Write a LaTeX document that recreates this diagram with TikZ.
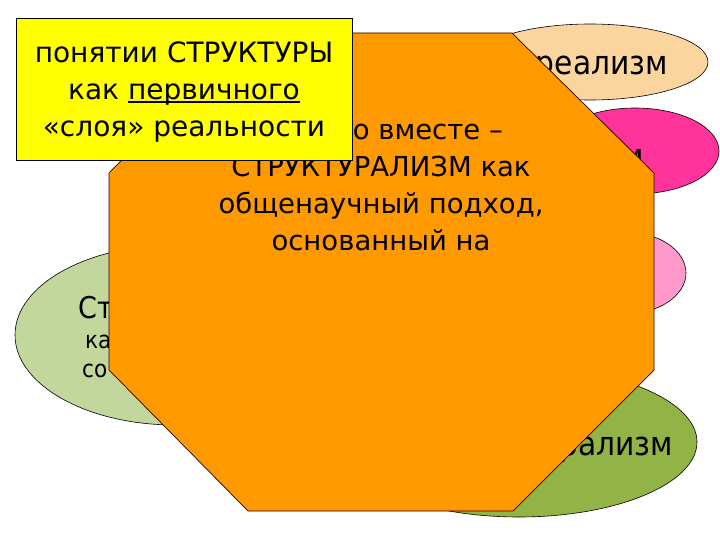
\documentclass[tikz,border=0pt]{standalone}
\usepackage{fontspec}
\setmainfont{DejaVu Sans}
\newfontfamily\narrowfont{DejaVu Sans}[FakeStretch=0.9]
\definecolor{peach}{HTML}{FBD59E}
\definecolor{hotpink}{HTML}{FF3399}
\definecolor{lightpink}{HTML}{FF99CC}
\definecolor{sage}{HTML}{C3D69B}
\definecolor{olivegreen}{HTML}{92B447}
\definecolor{orangefill}{HTML}{FF9900}
\definecolor{boxyellow}{HTML}{FFFF00}
\newcommand\ulword[1]{\setbox0\hbox{#1}\rlap{\rule[-3.2pt]{\wd0}{2pt}}\box0}
\begin{document}
\begin{tikzpicture}[x=1pt,y=-1pt,
  ell/.style={draw=black, line width=0.6pt},
  elltext/.style={font=\narrowfont\fontsize{33}{36}\selectfont, inner sep=0pt},
  bigtext/.style={font=\fontsize{28}{36}\selectfont, inner sep=0pt},
  smalltext/.style={font=\narrowfont\fontsize{24}{28}\selectfont, inner sep=0pt},
  octtext/.style={font=\fontsize{27.5}{36}\selectfont, inner sep=0pt, anchor=base}]
\useasboundingbox (0,0) rectangle (720,540);
\fill[white] (0,0) rectangle (720,540);
% ellipses
\draw[ell, fill=peach] (590,62) ellipse [x radius=118, y radius=38];
\draw[ell, fill=hotpink] (635,151) ellipse [x radius=84, y radius=43];
\draw[ell, fill=lightpink] (625,273) ellipse [x radius=61, y radius=41];
\draw[ell, fill=sage] (175,335) ellipse [x radius=160, y radius=90];
\draw[ell, fill=olivegreen] (519,442) ellipse [x radius=178, y radius=75];
% ellipse texts
\node[elltext, anchor=base east] (t1) at (668,75) {реализм};
\node[elltext, anchor=base east] (t2) at (644,168) {м};
\node[elltext, anchor=base east] (t3) at (673,455) {рализм};
\node[font=\narrowfont\fontsize{30}{34}\selectfont, inner sep=0pt, anchor=base west] (t4) at (78,318) {Ст};
\node[smalltext, anchor=base west] (t5) at (85,348) {ка};
\node[smalltext, anchor=base west] (t6) at (82,377) {со};
% octagon
\draw[fill=orangefill, draw=black!85!red, line width=0.7pt]
  (248,33) -- (512,33) -- (654,173) -- (654,370) -- (513,511) -- (248,511) -- (109,370) -- (109,173) -- cycle;
\node[octtext, anchor=base east] (o1) at (503,140) {о вместе –};
\node[octtext] (o2) at (381,177) {СТРУКТУРАЛИЗМ как};
\node[octtext] (o3) at (381,214) {общенаучный подход,};
\node[octtext] (o4) at (381,251) {основанный на};
% yellow box
\draw[fill=boxyellow, draw=black, line width=0.7pt] (16,18) rectangle (352,160);
\node[bigtext, anchor=base] (y1) at (184,63) {понятии СТРУКТУРЫ};
\node[bigtext, anchor=base] (y2) at (184,100) {как \ulword{первичного}};
\node[bigtext, anchor=base] (y3) at (184,137) {«слоя» реальности};
\end{tikzpicture}
\end{document}
